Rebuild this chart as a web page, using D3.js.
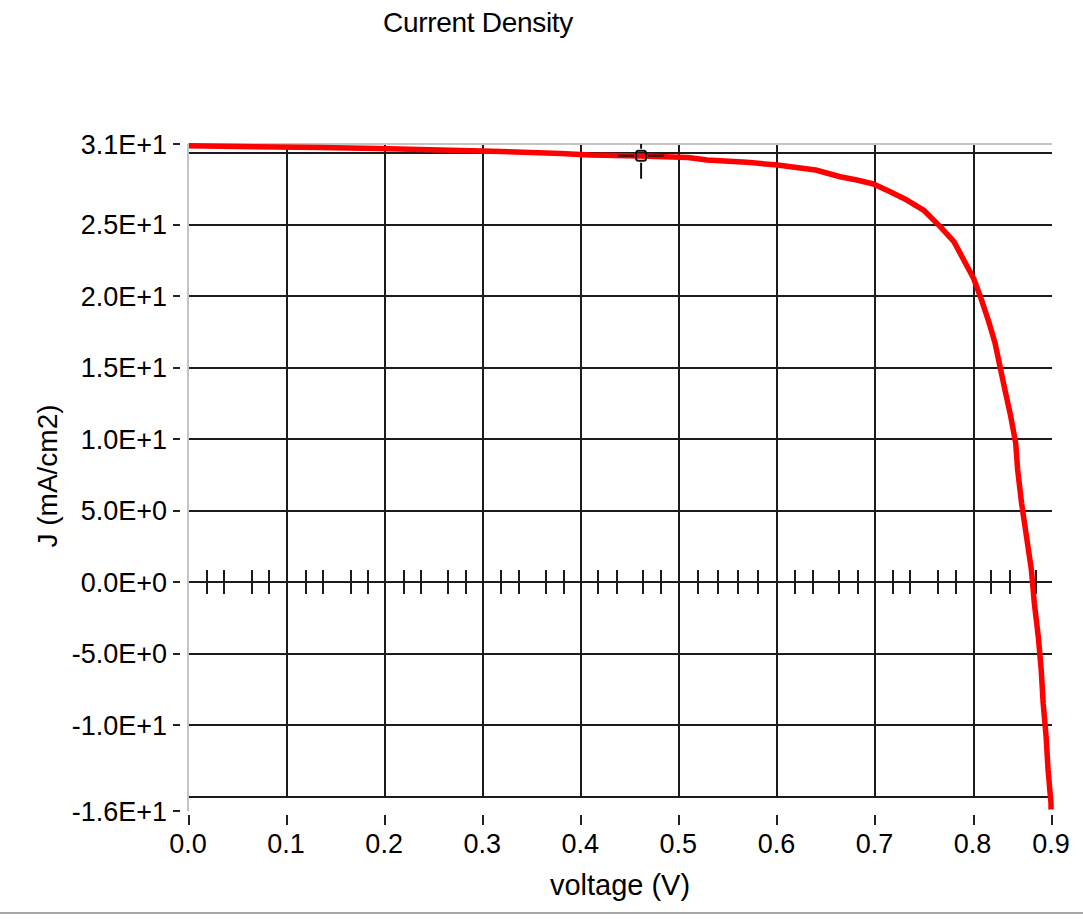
<!DOCTYPE html>
<html>
<head>
<meta charset="utf-8">
<script src="https://cdn.jsdelivr.net/npm/d3@7"></script>
<style>
  html, body { margin: 0; padding: 0; background: #ffffff; }
  svg { display: block; }
  text { font-family: "Liberation Sans", Arial, sans-serif; fill: #000; }
</style>
</head>
<body>
<svg id="chart" width="1083" height="922"></svg>
<script>
// J–V sweep: voltage (V) and current density (mA/cm2)
const voltage = [0, 0.067, 0.133, 0.193, 0.299, 0.379, 0.409, 0.460, 0.509, 0.528,
  0.569, 0.600, 0.639, 0.664, 0.681, 0.698, 0.715, 0.732, 0.749, 0.766,
  0.780, 0.790, 0.800, 0.807, 0.815, 0.822, 0.827, 0.832, 0.838, 0.843,
  0.845, 0.849, 0.854, 0.859, 0.862, 0.866, 0.869, 0.871, 0.874, 0.876,
  0.879, 0.879];
const currentDensity = [30.53, 30.46, 30.41, 30.34, 30.16, 29.99, 29.88, 29.81, 29.71, 29.53,
  29.37, 29.18, 28.83, 28.36, 28.13, 27.85, 27.31, 26.73, 26.03, 24.87,
  23.82, 22.54, 21.26, 19.97, 18.34, 16.71, 15.08, 13.45, 11.58, 9.72,
  7.85, 5.52, 3.19, 0.86, -1.47, -3.80, -6.13, -8.46, -10.80, -13.13,
  -15.45, -15.9];

// axis ranges
const xDomain = [0, 0.88];
const yDomain = [-16, 30.65];

// labelled ticks
const xTickValues = [0, 0.1, 0.2, 0.3, 0.4, 0.5, 0.6, 0.7, 0.8, 0.88];
const xTickLabels = ["0.0", "0.1", "0.2", "0.3", "0.4", "0.5", "0.6", "0.7", "0.8", "0.9"];
const yTickValues = [30.65, 25, 20, 15, 10, 5, 0, -5, -10, -16];
const yTickLabels = ["3.1E+1", "2.5E+1", "2.0E+1", "1.5E+1", "1.0E+1", "5.0E+0", "0.0E+0",
  "-5.0E+0", "-1.0E+1", "-1.6E+1"];

// grid
const xGridValues = [0.1, 0.2, 0.3, 0.4, 0.5, 0.6, 0.7, 0.8];
const yGridValues = [30, 25, 20, 15, 10, 5, 0, -5, -10, -15];

// minor ticks along the zero line
const zeroLineMinorTicks = [0.018, 0.036, 0.064, 0.082, 0.119, 0.137, 0.165, 0.183,
  0.219, 0.237, 0.264, 0.282, 0.318, 0.336, 0.364, 0.382,
  0.417, 0.436, 0.463, 0.481, 0.519, 0.539, 0.560, 0.580,
  0.618, 0.636, 0.663, 0.682, 0.718, 0.735, 0.764, 0.782,
  0.818, 0.837, 0.864];

// cursor position
const cursorPoint = { v: 0.461, j: 29.83 };

const svg = d3.select("#chart");

const x = d3.scaleLinear().domain(xDomain).range([189, 1052]);
const y = d3.scaleLinear().domain(yDomain).range([811, 144]);

const gridColor = "#1c1c1c";
const frameColor = "#c4c4c4";

const grid = svg.append("g").attr("shape-rendering", "crispEdges");

// horizontal grid lines
grid.append("g").selectAll("line").data(yGridValues).join("line")
  .attr("x1", x(xDomain[0])).attr("x2", x(xDomain[1]))
  .attr("y1", d => y(d)).attr("y2", d => y(d))
  .attr("stroke", gridColor).attr("stroke-width", 2);

// vertical grid lines (down to the lowest horizontal grid line)
grid.append("g").selectAll("line").data(xGridValues).join("line")
  .attr("x1", d => x(d)).attr("x2", d => x(d))
  .attr("y1", y(yDomain[1])).attr("y2", y(d3.min(yGridValues)))
  .attr("stroke", gridColor).attr("stroke-width", 2);

// minor ticks on the zero line
grid.append("g").selectAll("line").data(zeroLineMinorTicks).join("line")
  .attr("x1", d => x(d)).attr("x2", d => x(d))
  .attr("y1", y(0) - 12).attr("y2", y(0) + 12)
  .attr("stroke", gridColor).attr("stroke-width", 2);

// plot frame (top and left)
grid.append("line")
  .attr("x1", x(xDomain[0]) - 1).attr("x2", x(xDomain[1]))
  .attr("y1", y(yDomain[1])).attr("y2", y(yDomain[1]))
  .attr("stroke", frameColor).attr("stroke-width", 2);
grid.append("line")
  .attr("x1", x(xDomain[0]) - 1).attr("x2", x(xDomain[0]) - 1)
  .attr("y1", y(yDomain[1])).attr("y2", y(yDomain[0]))
  .attr("stroke", frameColor).attr("stroke-width", 2);

// y axis: dashes and labels
const yAxis = svg.append("g");
yAxis.selectAll("line").data(yTickValues).join("line")
  .attr("x1", 173).attr("x2", 180)
  .attr("y1", d => y(d)).attr("y2", d => y(d))
  .attr("stroke", "#222").attr("stroke-width", 2)
  .attr("shape-rendering", "crispEdges");
yAxis.selectAll("text").data(yTickValues).join("text")
  .attr("x", 167).attr("y", d => y(d) + 9.5)
  .attr("text-anchor", "end")
  .attr("font-size", 27)
  .text((d, i) => yTickLabels[i]);

// x axis: dashes and labels
const xAxis = svg.append("g");
xAxis.selectAll("line").data(xTickValues).join("line")
  .attr("x1", d => x(d)).attr("x2", d => x(d))
  .attr("y1", 815).attr("y2", 825)
  .attr("stroke", "#222").attr("stroke-width", 2)
  .attr("shape-rendering", "crispEdges");
xAxis.selectAll("text").data(xTickValues).join("text")
  .attr("x", d => x(d) - 1).attr("y", 853)
  .attr("text-anchor", "middle")
  .attr("font-size", 27)
  .text((d, i) => xTickLabels[i]);

// J–V curve
const points = voltage.map((v, i) => [v, currentDensity[i]]);
svg.append("path")
  .datum(points)
  .attr("d", d3.line().x(d => x(d[0])).y(d => y(d[1])))
  .attr("fill", "none")
  .attr("stroke", "#ff0000")
  .attr("stroke-width", 5.5)
  .attr("stroke-linejoin", "round");

// cursor crosshair
const cx = x(cursorPoint.v), cy = y(cursorPoint.j);
const cursor = svg.append("g").attr("stroke", "#111").attr("stroke-width", 2);
[[-23, -7], [7, 23]].forEach(([a, b]) => {
  cursor.append("line").attr("x1", cx + a).attr("x2", cx + b).attr("y1", cy).attr("y2", cy);
  cursor.append("line").attr("x1", cx).attr("x2", cx)
    .attr("y1", Math.max(cy + a, y(yDomain[1]))).attr("y2", cy + b);
});
cursor.append("rect")
  .attr("x", cx - 5).attr("y", cy - 5).attr("width", 10).attr("height", 10)
  .attr("rx", 2.5).attr("fill", "none");

// titles
svg.append("text")
  .attr("x", 478).attr("y", 32)
  .attr("text-anchor", "middle")
  .attr("font-size", 28)
  .attr("letter-spacing", -0.3)
  .text("Current Density");

svg.append("text")
  .attr("transform", "translate(57,476) rotate(-90)")
  .attr("text-anchor", "middle")
  .attr("font-size", 28)
  .text("J (mA/cm2)");

svg.append("text")
  .attr("x", 620).attr("y", 895)
  .attr("text-anchor", "middle")
  .attr("font-size", 29)
  .text("voltage (V)");

// bottom separator
svg.append("line")
  .attr("x1", 0).attr("x2", 1083)
  .attr("y1", 913).attr("y2", 913)
  .attr("stroke", "#a8a8a8").attr("stroke-width", 2);
</script>
</body>
</html>
